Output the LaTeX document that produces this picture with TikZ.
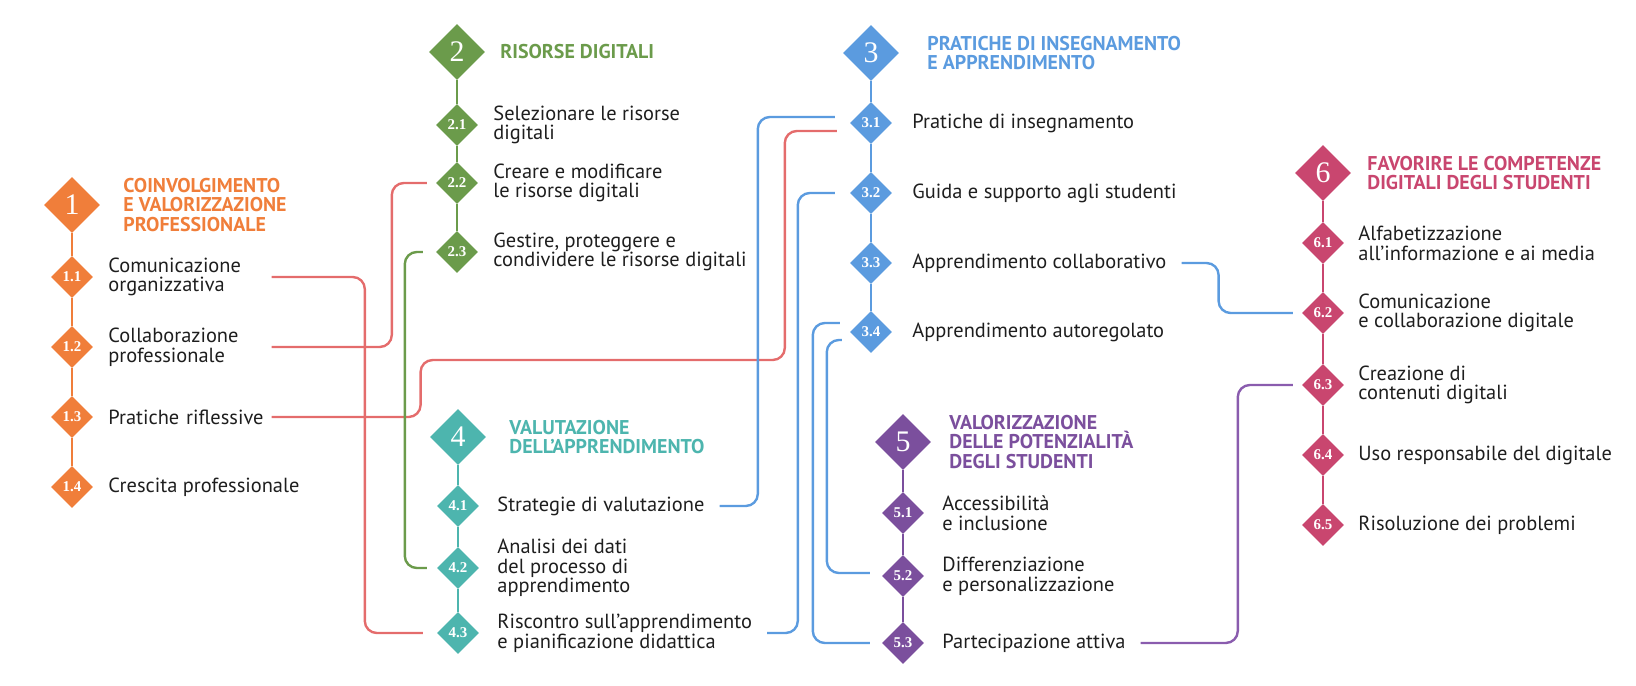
\documentclass[tikz,border=0pt]{standalone}
\usepackage{fontspec}
\newfontfamily\itemfont{PT Sans}
\newfontfamily\titlefont{PT Sans}
\newfontfamily\numfont{Liberation Serif}
\usetikzlibrary{shapes.geometric,positioning}

\definecolor{area1}{HTML}{F07E3A}
\definecolor{area2}{HTML}{6B9B4B}
\definecolor{area3}{HTML}{5B9BDF}
\definecolor{area4}{HTML}{4DB5AE}
\definecolor{area5}{HTML}{7B4F9D}
\definecolor{area6}{HTML}{C9466F}
\definecolor{linkred}{HTML}{E46C6C}
\definecolor{linkpurple}{HTML}{8A5CAE}
\definecolor{ink}{HTML}{1E1E1E}

\begin{document}
\begin{tikzpicture}[x=1bp, y=-1bp,
    head/.style={diamond, fill=#1, text=white, minimum width=56bp, minimum height=56bp, inner sep=0pt, font=\numfont\fontsize{30}{30}\selectfont},
    sub/.style={diamond, fill=#1, text=white, minimum width=42bp, minimum height=42bp, inner sep=0pt, font=\numfont\bfseries\fontsize{15}{15}\selectfont},
    title/.style={text=#1, align=left, inner sep=0pt, font=\titlefont\bfseries\fontsize{20}{20}\selectfont},
    item/.style={text=ink, align=left, inner sep=0pt, font=\itemfont\fontsize{20.5}{19.8}\selectfont},
    stem/.style={draw=#1, line width=2.6bp},
    link/.style={draw=#1, line width=2.4bp, rounded corners=12bp}]

    \useasboundingbox (0,0) rectangle (1636,686);

    % 1 coinvolgimento
    \node (a1) [head=area1] at (72,205) {1};
    \node (t1) [title=area1, right=23bp of a1] {COINVOLGIMENTO\\E VALORIZZAZIONE\\PROFESSIONALE};
    \node (a11) [sub=area1, below of=a1, node distance=72bp] {1.1};
    \node (a12) [sub=area1, below of=a11, node distance=70bp] {1.2};
    \node (a13) [sub=area1, below of=a12, node distance=70bp] {1.3};
    \node (a14) [sub=area1, below of=a13, node distance=70bp] {1.4};
    \node (t11) [item, right=15bp of a11, text width=170bp] {Comunicazione\\organizzativa};
    \node (t12) [item, right=15bp of a12, text width=170bp] {Collaborazione\\professionale};
    \node (t13) [item, right=15bp of a13, text width=170bp] {Pratiche riflessive};
    \node (t14) [item, right=15bp of a14] {Crescita professionale};

    % 2 risorse
    \node (a2) [head=area2] at (457,52) {2};
    \node (t2) [title=area2, right=15bp of a2] {RISORSE DIGITALI};
    \node (a21) [sub=area2, below of=a2, node distance=73bp] {2.1};
    \node (a22) [sub=area2, below of=a21, node distance=58bp] {2.2};
    \node (a23) [sub=area2, below of=a22, node distance=69bp] {2.3};
    \node (t21) [item, right=15bp of a21] {Selezionare le risorse\\digitali};
    \node (t22) [item, right=15bp of a22] {Creare e modificare\\le risorse digitali};
    \node (t23) [item, right=15bp of a23] {Gestire, proteggere e\\condividere le risorse digitali};

    % 3 pratiche
    \node (a3) [head=area3] at (871,53) {3};
    \node (t3) [title=area3, right=28bp of a3] {PRATICHE DI INSEGNAMENTO\\E APPRENDIMENTO};
    \node (a31) [sub=area3, below of=a3, node distance=70bp] {3.1};
    \node (a32) [sub=area3, below of=a31, node distance=70bp] {3.2};
    \node (a33) [sub=area3, below of=a32, node distance=70bp] {3.3};
    \node (a34) [sub=area3, below of=a33, node distance=69bp] {3.4};
    \node (t31) [item, right=20bp of a31] {Pratiche di insegnamento};
    \node (t32) [item, right=20bp of a32] {Guida e supporto agli studenti};
    \node (t33) [item, right=20bp of a33] {Apprendimento collaborativo};
    \node (t34) [item, right=20bp of a34] {Apprendimento autoregolato};

    % 4 valutazione
    \node (a4) [head=area4] at (458,437) {4};
    \node (t4) [title=area4, right=23bp of a4] {VALUTAZIONE\\DELL’APPRENDIMENTO};
    \node (a41) [sub=area4, below of=a4, node distance=69bp] {4.1};
    \node (a42) [sub=area4, below of=a41, node distance=62bp] {4.2};
    \node (a43) [sub=area4, below of=a42, node distance=65bp] {4.3};
    \node (t41) [item, right=18bp of a41] {Strategie di valutazione};
    \node (t42) [item, right=18bp of a42] {Analisi dei dati\\del processo di\\apprendimento};
    \node (t43) [item, right=18bp of a43] {Riscontro sull’apprendimento\\e pianificazione didattica};

    % 5 valorizzazione
    \node (a5) [head=area5] at (903,442) {5};
    \node (t5) [title=area5, right=18bp of a5] {VALORIZZAZIONE\\DELLE POTENZIALITÀ\\DEGLI STUDENTI};
    \node (a51) [sub=area5, below of=a5, node distance=71bp] {5.1};
    \node (a52) [sub=area5, below of=a51, node distance=63bp] {5.2};
    \node (a53) [sub=area5, below of=a52, node distance=67bp] {5.3};
    \node (t51) [item, right=18bp of a51] {Accessibilità\\e inclusione};
    \node (t52) [item, right=18bp of a52] {Differenziazione\\e personalizzazione};
    \node (t53) [item, right=18bp of a53] {Partecipazione attiva};

    % 6 competenze studenti
    \node (a6) [head=area6] at (1323,173) {6};
    \node (t6) [title=area6, right=16bp of a6] {FAVORIRE LE COMPETENZE\\DIGITALI DEGLI STUDENTI};
    \node (a61) [sub=area6, below of=a6, node distance=70bp] {6.1};
    \node (a62) [sub=area6, below of=a61, node distance=70bp] {6.2};
    \node (a63) [sub=area6, below of=a62, node distance=72bp] {6.3};
    \node (a64) [sub=area6, below of=a63, node distance=70bp] {6.4};
    \node (a65) [sub=area6, below of=a64, node distance=70bp] {6.5};
    \node (t61) [item, right=14bp of a61] {Alfabetizzazione\\all’informazione e ai media};
    \node (t62) [item, right=14bp of a62] {Comunicazione\\e collaborazione digitale};
    \node (t63) [item, right=14bp of a63] {Creazione di\\contenuti digitali};
    \node (t64) [item, right=14bp of a64] {Uso responsabile del digitale};
    \node (t65) [item, right=14bp of a65] {Risoluzione dei problemi};

    % stems
    \foreach \u/\v in {a1/a11, a11/a12, a12/a13, a13/a14} \draw[stem=area1] (\u) -- (\v);
    \foreach \u/\v in {a2/a21, a21/a22, a22/a23} \draw[stem=area2] (\u) -- (\v);
    \foreach \u/\v in {a3/a31, a31/a32, a32/a33, a33/a34} \draw[stem=area3] (\u) -- (\v);
    \foreach \u/\v in {a4/a41, a41/a42, a42/a43} \draw[stem=area4] (\u) -- (\v);
    \foreach \u/\v in {a5/a51, a51/a52, a52/a53} \draw[stem=area5] (\u) -- (\v);
    \foreach \u/\v in {a6/a61, a61/a62, a62/a63, a63/a64, a64/a65} \draw[stem=area6] (\u) -- (\v);

    % links
    \draw[link=linkred] ([xshift=-7bp]t11.east) -| ([xshift=-72bp]a43.west) -- ([xshift=-14bp]a43.west);
    \draw[link=linkred] ([xshift=-7bp]t12.east) -| ([xshift=-44bp]a22.west) -- ([xshift=-9bp]a22.west);
    \draw[link=linkred] ([xshift=-7bp]t13.east) -- ++(149,0) -- ++(0,-57) -| ([xshift=-65bp,yshift=-8bp]a31.west) -- ([xshift=-13bp,yshift=-8bp]a31.west);
    \draw[link=area2] ([xshift=-13bp]a23.west) -- ++(-18,0) |- ([xshift=-10bp]a42.west);
    \draw[link=area3] ([xshift=15bp]t41.east) -| ([xshift=-92bp,yshift=6bp]a31.west) -- ([xshift=-15bp,yshift=6bp]a31.west);
    \draw[link=area3] ([xshift=-15bp]a32.west) -- ++(-37,0) |- ([xshift=15bp]t43.east);
    \draw[link=area3] ([xshift=-10bp,yshift=9bp]a34.west) -- ++(-27,0) |- ([xshift=-12bp]a53.west);
    \draw[link=area3] ([xshift=-8bp,yshift=-8bp]a34.west) -- ++(-15,0) |- ([xshift=-12bp,yshift=3bp]a52.west);
    \draw[link=area3] ([xshift=15bp]t33.east) -- ++(37,0) |- ([xshift=-9bp]a62.west);
    \draw[link=linkpurple] ([xshift=15bp]t53.east) -| ([xshift=-64bp]a63.west) -- ([xshift=-9bp]a63.west);
\end{tikzpicture}
\end{document}
